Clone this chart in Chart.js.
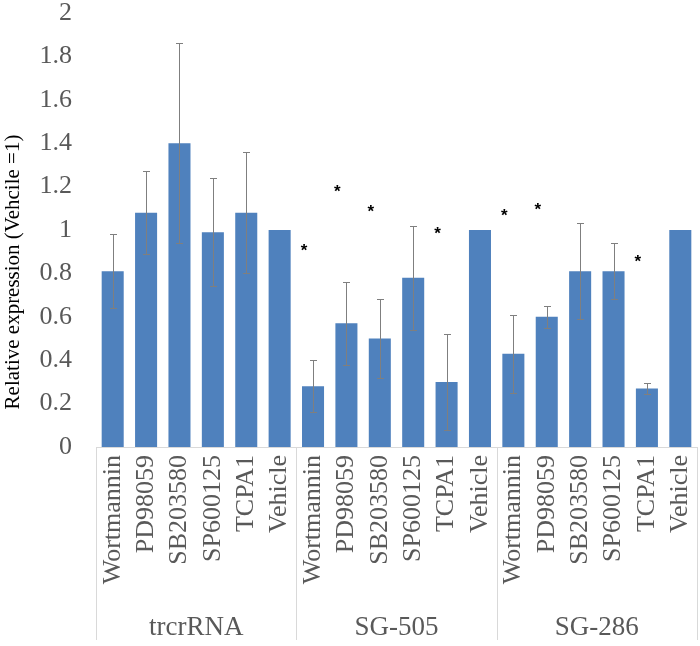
<!DOCTYPE html>
<html>
<head>
<meta charset="utf-8">
<script src="https://cdn.jsdelivr.net/npm/chart.js@4.4.1/dist/chart.umd.min.js"></script>
<style>
  html, body { margin: 0; padding: 0; background: #fff; }
  #wrap { width: 700px; height: 646px; }
</style>
</head>
<body>
<div id="wrap"><canvas id="expr"></canvas></div>
<script>
// treatments, repeated for each group
const treatments = ['Wortmannin', 'PD98059', 'SB203580', 'SP600125', 'TCPA1', 'Vehicle'];
const groups = ['trcrRNA', 'SG-505', 'SG-286'];
const yTicks = [0, 0.2, 0.4, 0.6, 0.8, 1, 1.2, 1.4, 1.6, 1.8, 2];
const yTitle = 'Relative expression (Vehcile =1)';

const meanValues = [
    0.81, 1.08, 1.40, 0.99, 1.08, 1.00,
    0.28, 0.57, 0.50, 0.78, 0.30, 1.00,
    0.43, 0.60, 0.81, 0.81, 0.27, 1.00
];
const errValues = [
    0.17, 0.19, 0.46, 0.25, 0.28, 0,
    0.12, 0.19, 0.18, 0.24, 0.22, 0,
    0.18, 0.05, 0.22, 0.13, 0.025, 0
];
// height of the significance star, null = none
const starValues = [
    null, null, null, null, null, null,
    0.92, 1.19, 1.10, null, 1.00, null,
    1.08, 1.11, null, null, 0.87, null
];

const labels = [];
groups.forEach(function () { treatments.forEach(function (t) { labels.push(t); }); });

const serif = 'Liberation Serif';

function noPad(s) {
    s.paddingLeft = 0; s.paddingRight = 0;
    s.paddingTop = 0; s.paddingBottom = 0;
}

const extrasPlugin = {
    id: 'extras',
    afterDatasetsDraw: function (chart) {
        const ctx = chart.ctx;
        const xs = chart.scales.x;
        const ys = chart.scales.y;
        ctx.save();
        // error bars
        ctx.strokeStyle = '#7f7f7f';
        ctx.lineWidth = 1;
        errValues.forEach(function (e, i) {
            if (!e) return;
            const x = Math.round(xs.getPixelForValue(i)) + 0.5;
            const yHi = Math.round(ys.getPixelForValue(meanValues[i] + e)) + 0.5;
            const yLo = Math.round(ys.getPixelForValue(meanValues[i] - e)) + 0.5;
            ctx.beginPath();
            ctx.moveTo(x, yHi); ctx.lineTo(x, yLo);
            ctx.moveTo(x - 3.5, yHi); ctx.lineTo(x + 3.5, yHi);
            ctx.moveTo(x - 3.5, yLo); ctx.lineTo(x + 3.5, yLo);
            ctx.stroke();
        });
        // stars
        ctx.fillStyle = '#000';
        ctx.font = 'bold 17px "Liberation Sans"';
        ctx.textAlign = 'center';
        ctx.textBaseline = 'middle';
        starValues.forEach(function (s, i) {
            if (s === null) return;
            const x = xs.getPixelForValue(i) - 9;
            const y = ys.getPixelForValue(s);
            ctx.fillText('*', x, y + 4);
        });
        // group separators below the axis
        const g = chart.scales.x2;
        ctx.strokeStyle = '#d9d9d9';
        ctx.beginPath();
        for (let k = 0; k <= treatments.length * groups.length; k += treatments.length) {
            const px = Math.round(xs.getPixelForValue(k - 0.5)) + 0.5;
            ctx.moveTo(px, xs.top);
            ctx.lineTo(px, g.bottom - 6);
        }
        ctx.stroke();
        // y axis title, sits a bit below the middle like the original
        ctx.translate(ys.left + 13, (ys.top + ys.bottom) / 2 + 42);
        ctx.rotate(-Math.PI / 2);
        ctx.font = '21px "' + serif + '"';
        ctx.fillStyle = '#000';
        ctx.textAlign = 'center';
        ctx.textBaseline = 'middle';
        ctx.fillText(yTitle, 0, 0);
        ctx.restore();
    }
};

const chart = new Chart(document.getElementById('expr').getContext('2d'), {
    type: 'bar',
    data: {
        labels: labels,
        datasets: [{
            label: 'Relative expression',
            data: meanValues,
            backgroundColor: '#4f81bd',
            borderWidth: 0,
            categoryPercentage: 1,
            barPercentage: 0.66
        }]
    },
    options: {
        responsive: true,
        maintainAspectRatio: false,
        animation: false,
        layout: { padding: { top: 13, right: 3, left: 0, bottom: 0 } },
        plugins: {
            legend: { display: false },
            tooltip: { enabled: false }
        },
        scales: {
            x: {
                type: 'category',
                position: 'bottom',
                weight: 0,
                grid: { display: false },
                border: { display: true, color: '#d9d9d9', width: 1 },
                ticks: {
                    autoSkip: false,
                    minRotation: 90,
                    maxRotation: 90,
                    padding: 0,
                    color: '#595959',
                    font: { family: serif, size: 26 }
                },
                afterFit: function (s) { s.height = 150; noPad(s); }
            },
            x2: {
                type: 'category',
                position: 'bottom',
                weight: 1,
                labels: groups,
                offset: true,
                grid: { display: false, drawTicks: false },
                border: { display: false },
                ticks: {
                    padding: 15,
                    color: '#595959',
                    font: { family: serif, size: 27 }
                },
                afterFit: function (s) { s.height = 49; noPad(s); }
            },
            y: {
                min: 0,
                max: 2,
                grid: { display: false },
                border: { display: false },
                afterBuildTicks: function (s) {
                    s.ticks = yTicks.map(function (v) { return { value: v }; });
                },
                ticks: {
                    padding: 16,
                    color: '#595959',
                    font: { family: serif, size: 26 },
                    callback: function (v) { return String(Number(v.toFixed(1))); }
                },
                afterFit: function (s) { s.width = 96; noPad(s); }
            }
        }
    },
    plugins: [extrasPlugin]
});
</script>
</body>
</html>
